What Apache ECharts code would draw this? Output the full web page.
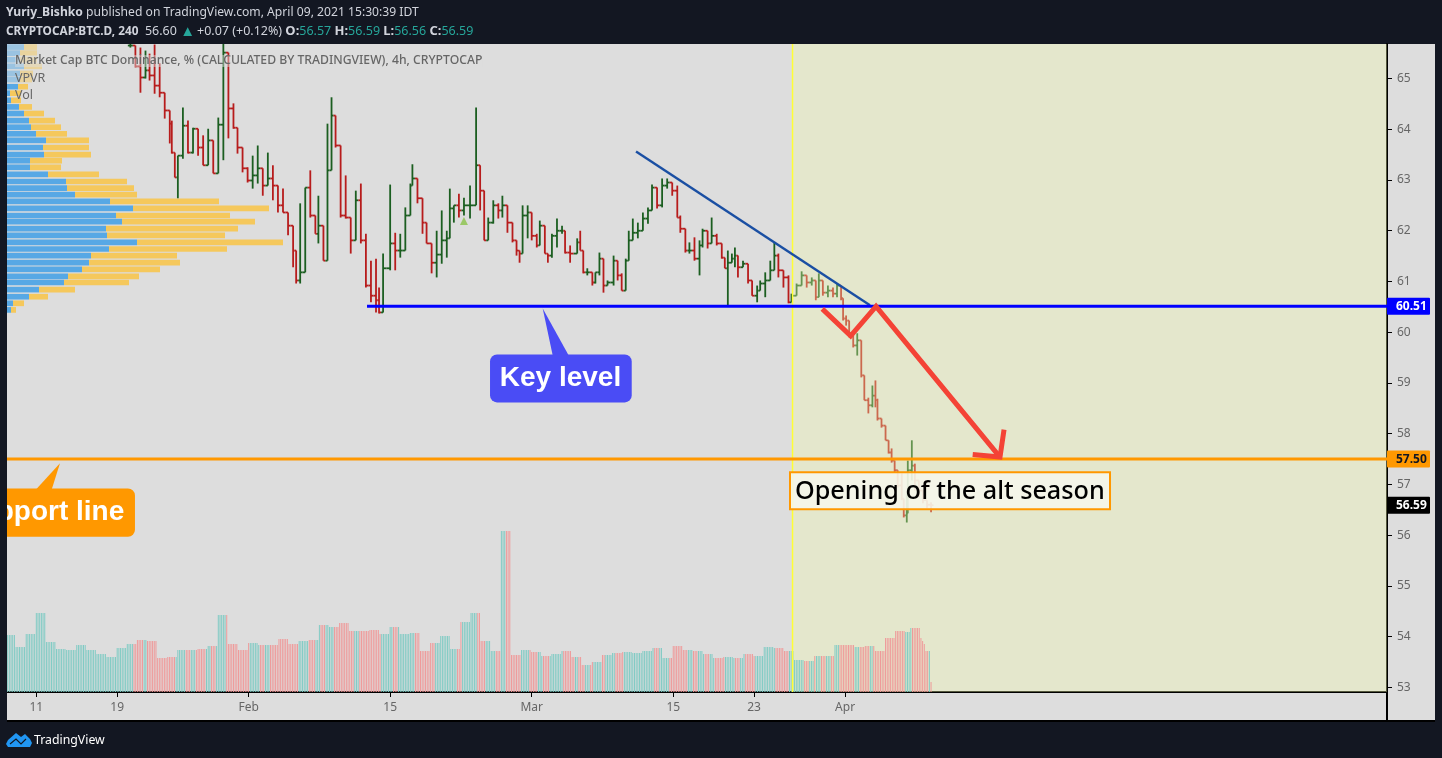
<!DOCTYPE html>
<html>
<head>
<meta charset="utf-8">
<title>BTC.D</title>
<script src="https://cdn.jsdelivr.net/npm/echarts@6/dist/echarts.min.js"></script>
<style>
  html, body { margin: 0; padding: 0; background: #131722; overflow: hidden; }
  #frame { position: absolute; left: 7px; top: 44px; width: 1428px; height: 677px; background: #dddddd; }
  #main { position: absolute; left: 0; top: 0; width: 1442px; height: 758px; }
</style>
</head>
<body>
<div id="frame"></div>
<div id="main"></div>
<script>
// day of 2021 (1 = Jan 1) for each price bar
var priceDay = [20.3,20.8,21.3,21.8,22.2,22.7,23.2,23.7,24.2,24.4,24.7,25.0,25.5,26.0,26.5,27.0,27.5,28.0,28.5,29.0,29.5,30.0,30.5,30.9,31.4,31.9,32.4,32.9,33.4,33.9,34.4,34.9,35.4,35.9,36.4,36.7,37.1,37.6,38.1,38.6,38.9,39.4,39.8,40.2,40.6,41.1,41.6,42.1,42.6,43.1,43.6,44.1,44.6,44.9,45.3,
  46.0,46.5,47.0,47.5,48.0,48.2,48.7,49.2,49.6,50.1,50.6,51.1,51.6,51.9,52.3,52.8,53.3,53.9,54.5,54.9,55.3,55.7,56.2,56.7,57.1,57.6,58.1,58.5,58.8,59.1,59.6,60.0,60.5,60.8,61.3,61.6,62.0,62.5,63.0,63.3,63.8,64.5,64.8,65.1,65.5,66.0,66.3,66.7,67.1,67.5,68.1,68.5,68.9,69.3,69.6,70.0,70.5,71.0,71.5,71.9,72.4,72.9,73.4,73.9,74.4,74.7,75.2,75.6,76.1,76.6,76.9,77.4,77.8,78.3,78.8,79.1,79.4,79.8,80.1,80.4,80.9,81.4,81.8,82.3,82.6,83.1,83.6,84.0,84.4,84.9,85.4,85.7,
  86.2,86.7,87.2,87.7,88.1,88.4,88.8,89.3,89.8,90.2,90.6,90.8,91.1,91.4,91.8,92.2,92.6,92.9,93.3,93.7,94.0,94.2,94.6,95.0,95.3,95.6,95.9,96.2,96.6,96.8,97.1,97.2,97.6,97.9,98.3,98.7,99.1,99.5];
var priceHigh = [65.69,65.61,65.61,65.55,65.49,65.67,65.3,64.57,64.21,64.17,63.54,63.48,64.43,64.17,64.03,63.82,63.88,64.01,63.54,64.23,65.75,64.76,64.51,64.01,63.48,63.25,63.48,63.68,63.05,63.54,63.29,62.79,62.83,62.26,61.87,61.55,62.54,62.85,63.19,62.26,62.69,61.87,64.11,64.63,64.11,63.33,63.09,61.81,62.79,62.93,61.94,61.41,61.45,60.88,61.55,
  62.91,61.96,61.94,62.46,62.93,63.31,62.89,62.56,61.9,61.67,62.0,62.4,62.0,62.83,62.5,62.73,62.65,62.89,64.43,63.05,62.46,62.26,62.6,62.54,62.69,62.2,62.14,61.81,61.57,62.5,62.5,62.14,61.94,62.2,61.87,61.55,61.94,62.24,62.1,61.87,61.71,61.85,62.0,61.61,61.26,61.08,61.18,61.57,61.28,61.02,61.51,61.41,61.16,61.45,62.0,62.24,62.16,62.36,62.46,62.91,62.73,63.03,63.03,62.95,62.89,62.3,61.94,61.77,61.87,61.81,62.04,61.87,62.26,61.94,61.75,61.47,61.61,61.55,61.67,61.31,61.41,61.35,61.02,60.92,61.02,61.18,61.41,61.77,61.55,61.18,61.12,60.76,
  60.96,61.2,61.02,61.08,60.96,61.16,60.88,60.92,60.88,60.96,60.86,60.63,60.33,60.13,59.9,59.98,59.58,59.11,58.71,58.95,59.05,58.69,58.3,58.12,57.87,57.71,57.47,57.24,57.22,56.69,56.82,57.47,57.87,57.41,57.08,56.88,56.69,56.65];
var priceLow = [65.61,65.22,64.72,65.0,64.96,64.7,64.63,64.21,63.72,63.52,63.05,62.64,63.42,63.52,63.52,63.48,63.29,63.52,63.13,63.39,63.39,63.82,64.01,63.52,63.15,62.95,62.83,62.93,62.69,62.93,62.6,62.36,62.36,61.91,61.28,60.96,60.96,62.26,62.26,61.94,61.75,61.41,61.41,64.03,63.64,62.26,62.24,61.55,62.26,61.75,60.88,60.59,60.39,60.37,60.78,
  61.22,61.22,61.47,61.94,62.3,62.89,62.54,61.94,61.75,61.16,61.08,61.35,61.47,62.1,62.16,62.26,62.3,62.24,62.6,62.4,61.81,62.0,62.14,62.24,62.26,61.96,61.77,61.51,61.37,61.55,61.85,61.81,61.67,61.9,61.55,61.37,61.47,61.67,61.94,61.55,61.37,61.61,61.61,61.16,61.12,60.92,60.96,61.12,60.78,60.92,60.92,61.02,60.82,61.06,61.41,61.9,61.85,62.0,62.14,62.44,62.44,62.46,62.83,62.69,62.26,61.96,61.57,61.55,61.41,61.12,61.67,61.65,61.87,61.71,61.45,61.26,60.53,61.41,61.28,61.08,61.28,60.96,60.72,60.59,60.82,60.69,61.08,61.28,61.08,60.88,60.57,60.63,
  60.76,60.92,60.88,60.92,60.63,60.69,60.72,60.69,60.69,60.69,60.63,60.23,60.13,59.9,59.7,59.54,59.11,58.66,58.4,58.52,58.52,58.26,58.12,57.87,57.61,57.43,57.24,56.94,56.69,56.35,56.25,56.43,57.08,56.88,56.75,56.63,56.53,56.45];
var priceClose = [65.65,65.24,65.02,65.16,65.06,64.86,64.72,64.37,64.11,63.54,63.05,63.48,64.07,63.54,64.01,63.64,63.29,63.78,63.13,64.09,65.51,64.41,64.03,63.64,63.23,62.99,63.09,63.23,62.89,63.03,62.89,62.5,62.36,62.1,61.61,61.02,61.18,62.85,62.3,61.94,62.1,61.41,63.19,64.27,63.68,62.3,62.26,61.81,62.6,61.81,60.92,60.72,60.63,60.39,61.26,
  61.75,61.61,61.61,62.3,62.89,63.03,62.64,62.16,61.75,61.37,61.53,61.81,61.85,62.44,62.5,62.4,62.5,62.5,63.29,62.79,61.81,62.16,62.5,62.4,62.5,62.16,61.81,61.61,61.55,62.3,62.36,61.9,61.71,62.1,61.55,61.51,61.9,62.0,62.0,61.57,61.55,61.77,61.61,61.18,61.18,60.98,61.18,61.45,60.92,60.98,61.41,61.12,60.82,61.41,61.81,61.96,62.0,62.24,62.4,62.85,62.5,62.89,62.95,62.79,62.26,62.04,61.61,61.61,61.45,61.71,62.0,61.75,61.9,61.75,61.47,61.26,61.37,61.45,61.51,61.28,61.35,61.02,60.72,60.82,60.96,61.02,61.22,61.51,61.22,61.08,60.59,60.72,
  60.92,61.12,60.98,61.02,60.69,61.02,60.78,60.82,60.76,60.92,60.67,60.27,60.23,59.94,59.74,59.84,59.15,58.66,58.56,58.75,58.66,58.3,58.16,57.87,57.63,57.47,57.28,56.98,56.72,56.39,56.43,57.28,57.37,57.08,56.88,56.69,56.6,56.59];

// daily volume from Jan 8 on, then the last days bar by bar
var volumeDays = [57,45,58,79,50,43,42,47,42,38,35,44,48,52,51,34,35,42,42,43,46,77,48,42,49,47,47,53,48,51,52,67,65,69,61,61,62,58,65,58,59,41,49,56,43,70,79,51,41,161,
  37,42,40,36,38,41,35,27,30,37,39,40,39,41,44,34,46,42,41,38,34,35,34,38,36,45,44,41,32,31,36,36,47,47,45,46,41,54,61];
var volumeTail = [60,60,60,64,64,64,64,64,64,54,51,48,41,41,41,10];

// visible range volume, rows from the top of the pane down
var vpvrPrice = [65.62,65.5,65.37,65.24,65.1,64.98,64.84,64.71,64.57,64.44,64.31,64.17,64.04,63.91,63.78,63.64,63.5,63.38,63.25,63.11,62.97,62.84,62.71,62.58,62.44,62.3,62.18,62.04,61.91,61.77,61.64,61.51,61.37,61.24,61.1,60.98,60.84,60.7,60.57,60.44];
var vpvrBuy = [17,13,13,17,13,13,11,3,4,12,17,22,24,29,39,36,37,23,23,41,59,60,68,103,126,109,115,99,100,130,102,84,82,75,61,57,32,22,6,4];
var vpvrSell = [13,17,17,18,13,12,10,11,10,13,20,26,30,31,43,46,47,32,31,51,61,67,62,109,136,114,133,132,118,146,118,86,91,78,71,65,36,19,11,5];

var priceTicks = [53,54,55,56,57,58,59,60,61,62,63,64,65];
var dayTicks = [11,19,32,46,60,74,82,91];
var dayLabels = ['11','19','Feb','15','Mar','15','23','Apr'];

// drawings on the chart, as [day, price]
var trendLine = [[70.32,63.56],[93.46,60.53]];
var keyLevel = [[43.71,60.51],[144.6,60.51]];
var supportLevel = [[8.1,57.5],[144.6,57.5]];
var redPath = [[88.74,60.46],[91.55,59.93],[94.06,60.51],[106.32,57.54]];
var redHead = [[103.62,57.59],[106.32,57.54],[106.72,58.08]];
var shadeStart = 85.8;
var marker = [[53.3,62.19]];
var keyTip = [61.09,60.47];
var supportTip = [13.34,57.42];
var boxCorner = [85.55,57.24];
var tags = [[60.51,'60.51','#0000ff','#ffffff'],[57.5,'57.50','#ff9800','#131722'],[56.59,'56.59','#000000','#ffffff']];

var UP = '#1b5e20', DOWN = '#b71c1c';
var FONT = '"Noto Sans", sans-serif';
var xMin = 8.1, xMax = 144.6, yMin = 52.91, yMax = 65.68;

var priceData = priceDay.map(function (d, i) {
  var open = i > 0 ? priceClose[i - 1] : priceClose[i];
  return [d, open, priceHigh[i], priceLow[i], priceClose[i]];
});

// volume bars take their colour from the nearest price bar
function barColor(day, slot) {
  var up = Math.floor(slot / 3) % 2 === 0;
  for (var i = 1; i < priceData.length; i++) {
    if (priceData[i][0] > day + 0.25) {
      up = priceData[i - 1][4] >= priceData[i - 1][1];
      break;
    }
  }
  return up ? '#80cbc4' : '#ef9a9a';
}
var volumeData = [];
function addVolume(day, value, slot) {
  volumeData.push({ value: [day, value], itemStyle: { color: barColor(day, slot) } });
}
volumeDays.forEach(function (v, i) {
  for (var s = 0; s < 6; s++) addVolume(8 + i + s / 6, v, i * 6 + s);
});
volumeTail.forEach(function (v, i) {
  addVolume(8 + volumeDays.length + i / 6, v, volumeDays.length * 6 + i);
});

// high-low stem with open tick to the left and close tick to the right, reaching the neighbours
function renderBar(params, api) {
  var i = params.dataIndex;
  var x = api.value(0);
  var open = api.value(1), close = api.value(4);
  var top = Math.max(api.value(2), open, close);
  var bottom = Math.min(api.value(3), open, close);
  var o = api.coord([x, open]);
  var c = api.coord([x, close]);
  var h = api.coord([x, top]);
  var l = api.coord([x, bottom]);
  var left = i > 0 ? api.coord([priceDay[i - 1], open])[0] : o[0] - 5;
  var right = i < priceDay.length - 1 ? api.coord([priceDay[i + 1], close])[0] : c[0] + 5;
  var st = { stroke: close >= open ? UP : DOWN, lineWidth: 1.8, fill: null };
  return {
    type: 'group',
    children: [
      { type: 'line', shape: { x1: h[0], y1: h[1], x2: l[0], y2: l[1] }, style: st },
      { type: 'line', shape: { x1: (left + o[0]) / 2, y1: o[1], x2: o[0], y2: o[1] }, style: st },
      { type: 'line', shape: { x1: c[0], y1: c[1], x2: (right + c[0]) / 2, y2: c[1] }, style: st }
    ]
  };
}

function renderVpvr(params, api) {
  var p = api.value(0);
  var a = api.coord([0, p]);
  var b = api.coord([api.value(1), p]);
  var c = api.coord([api.value(1) + api.value(2), p]);
  var h = api.size([0, 0.112])[1];
  return {
    type: 'group',
    children: [
      { type: 'rect', shape: { x: a[0], y: a[1] - h / 2, width: b[0] - a[0], height: h }, style: { fill: '#57a8e5' } },
      { type: 'rect', shape: { x: b[0], y: b[1] - h / 2, width: c[0] - b[0], height: h }, style: { fill: '#f5c85c' } }
    ]
  };
}

function lineSeries(data, color, width, z) {
  return {
    type: 'line', data: data, showSymbol: false, silent: true, z: z, animation: false,
    lineStyle: { color: color, width: width, join: 'miter', cap: 'butt' }
  };
}

function callout(tip, color, text, rect, base, textX) {
  return {
    type: 'custom', z: 9, silent: true, animation: false, data: [tip],
    renderItem: function (params, api) {
      var t = api.coord([api.value(0), api.value(1)]);
      return {
        type: 'group',
        children: [
          { type: 'polygon', shape: { points: [[t[0], t[1]], [t[0] + base[0], t[1] + rect[1] + 1], [t[0] + base[1], t[1] + rect[1] + 1]] }, style: { fill: color } },
          { type: 'rect', shape: { x: t[0] + rect[0], y: t[1] + rect[1], width: rect[2], height: rect[3], r: 7 }, style: { fill: color } },
          { type: 'text', style: { x: t[0] + textX, y: t[1] + rect[1] + rect[3] / 2, text: text, fill: '#ffffff', font: 'bold 28px "Liberation Sans", Arial, sans-serif', align: 'right', verticalAlign: 'middle' } }
        ]
      };
    }
  };
}

var myChart = echarts.init(document.getElementById('main'), null, { width: 1442, height: 758 });

var option = {
  backgroundColor: 'transparent',
  animation: false,
  grid: { left: 7, right: 55, top: 44, height: 648, containLabel: false },
  xAxis: [
    {
      type: 'value', min: xMin, max: xMax, position: 'bottom', splitLine: { show: false },
      axisLine: { onZero: false, lineStyle: { color: '#000000', width: 2 } },
      axisTick: { length: 5, lineStyle: { color: '#000000' }, customValues: dayTicks },
      axisLabel: {
        color: '#666666', fontFamily: FONT, fontSize: 12, margin: 10, customValues: dayTicks,
        formatter: function (v) { return dayLabels[dayTicks.indexOf(v)]; }
      }
    },
    { type: 'value', min: 0, max: 1380, show: false, position: 'top' }
  ],
  yAxis: [
    {
      type: 'value', min: yMin, max: yMax, position: 'right', splitLine: { show: false },
      axisLine: { onZero: false, lineStyle: { color: '#000000', width: 2 } },
      axisTick: { length: 5, lineStyle: { color: '#000000' }, customValues: priceTicks },
      axisLabel: { color: '#666666', fontFamily: FONT, fontSize: 12, margin: 10, customValues: priceTicks }
    },
    { type: 'value', min: 0, max: 648, show: false, position: 'left' }
  ],
  series: [
    { type: 'bar', name: 'Vol', yAxisIndex: 1, barWidth: 1, data: volumeData, z: 6, silent: true, animation: false },
    {
      type: 'custom', name: 'VPVR', xAxisIndex: 1, z: 3, silent: true, animation: false,
      data: vpvrPrice.map(function (p, i) { return [p, vpvrBuy[i], vpvrSell[i]]; }),
      encode: { x: [1, 2], y: 0 }, renderItem: renderVpvr
    },
    {
      type: 'custom', name: 'BTC.D', z: 4, clip: true, silent: true, animation: false,
      data: priceData, encode: { x: 0, y: [1, 2, 3, 4] }, renderItem: renderBar
    },
    {
      type: 'scatter', data: marker, symbol: 'triangle', symbolSize: 8, z: 4, silent: true, animation: false,
      itemStyle: { color: '#8bc34a' }
    },
    {
      type: 'line', data: [], z: 5, silent: true, animation: false,
      markArea: {
        silent: true, z: 5,
        itemStyle: { color: 'rgba(241,250,172,0.35)' },
        data: [[{ xAxis: shadeStart }, { xAxis: xMax }]]
      }
    },
    lineSeries([[shadeStart, yMin], [shadeStart, yMax]], '#ffff33', 1.5, 6),
    lineSeries(trendLine, '#1a4fa3', 2.4, 7),
    lineSeries(keyLevel, '#0000ff', 3, 7),
    lineSeries(supportLevel, '#ff9800', 3, 7),
    lineSeries(redPath, '#f44336', 5, 8),
    lineSeries(redHead, '#f44336', 5, 8),
    callout(keyTip, '#4a4cf5', 'Key level', [-52.7, 46, 141.7, 48], [10, 26], 78.5),
    callout(supportTip, '#ff9800', 'Support line', [-60, 25.3, 135, 48.3], [-24, -8.3], 64.3),
    {
      type: 'custom', z: 9, silent: true, animation: false, data: [boxCorner],
      renderItem: function (params, api) {
        var c = api.coord([api.value(0), api.value(1)]);
        return {
          type: 'group',
          children: [
            { type: 'rect', shape: { x: c[0], y: c[1], width: 320, height: 37 }, style: { fill: 'rgba(246,247,236,0.88)', stroke: '#ff9800', lineWidth: 2 } },
            { type: 'text', style: { x: c[0] + 5, y: c[1] + 19.5, text: 'Opening of the alt season', fill: '#000000', font: '500 25.2px "Noto Sans", sans-serif', verticalAlign: 'middle' } }
          ]
        };
      }
    },
    {
      type: 'custom', z: 10, silent: true, animation: false, data: tags.map(function (t) { return [t[0]]; }),
      encode: { y: 0 },
      renderItem: function (params, api) {
        var t = tags[params.dataIndex];
        var c = api.coord([xMax, t[0]]);
        return {
          type: 'group',
          children: [
            { type: 'rect', shape: { x: c[0], y: c[1] - 8.5, width: 43, height: 17, r: 1 }, style: { fill: t[2] } },
            { type: 'text', style: { x: c[0] + 9, y: c[1], text: t[1], fill: t[3], font: 'bold 12px "Noto Sans", sans-serif', verticalAlign: 'middle' } }
          ]
        };
      }
    }
  ],
  graphic: [
    { type: 'rect', z: 90, silent: true, shape: { x: 7, y: 44, width: 38, height: 40 }, style: { fill: 'rgba(221,221,221,0.5)' } },
    { type: 'rect', z: 100, silent: true, shape: { x: 0, y: 44, width: 7, height: 680 }, style: { fill: '#131722' } },
    { type: 'line', z: 100, silent: true, shape: { x1: 7, y1: 721, x2: 1435, y2: 721 }, style: { stroke: '#000000', lineWidth: 2 } },
    { type: 'line', z: 100, silent: true, shape: { x1: 1387, y1: 692, x2: 1387, y2: 721 }, style: { stroke: '#000000', lineWidth: 2 } },
    {
      type: 'text', z: 100, silent: true, x: 6, y: 7,
      style: {
        text: '{b|Yuriy_Bishko} published on TradingView.com, April 09, 2021 15:30:39 IDT',
        fill: '#d1d4dc', font: '12.15px "Noto Sans", sans-serif',
        rich: { b: { fontWeight: 'bold', fontSize: 12.15, fill: '#d1d4dc', fontFamily: 'Noto Sans' } }
      }
    },
    {
      type: 'text', z: 100, silent: true, x: 6, y: 24,
      style: {
        text: '{b|CRYPTOCAP:BTC.D, 240}  56.60 {a|▲}\u2009+0.07 (+0.12%) {k|O:}{t|56.57} {k|H:}{t|56.59} {k|L:}{t|56.56} {k|C:}{t|56.59}',
        fill: '#d1d4dc', font: '12.5px "Noto Sans", sans-serif',
        rich: {
          b: { fontWeight: 'bold', fontSize: 11.8, fill: '#d1d4dc', fontFamily: 'Noto Sans' },
          k: { fontWeight: 'bold', fontSize: 13, fill: '#d1d4dc', fontFamily: 'Noto Sans' },
          a: { fontSize: 15, fill: '#26a69a', fontFamily: 'Noto Sans' },
          t: { fontSize: 12.5, fill: '#26a69a', fontFamily: 'Noto Sans' }
        }
      }
    },
    {
      type: 'text', z: 100, silent: true, x: 15, y: 55,
      style: {
        text: 'Market Cap BTC Dominance, % (CALCULATED BY TRADINGVIEW), 4h, CRYPTOCAP',
        fill: '#666666', font: '500 12.2px "Noto Sans", sans-serif',
        backgroundColor: 'rgba(221,221,221,0.45)'
      }
    },
    { type: 'text', z: 100, silent: true, x: 15, y: 72, style: { text: 'VPVR', fill: '#666666', font: '12.5px "Noto Sans", sans-serif' } },
    { type: 'text', z: 100, silent: true, x: 15, y: 89, style: { text: 'Vol', fill: '#666666', font: '12.5px "Noto Sans", sans-serif' } },
    {
      type: 'polygon', z: 100, silent: true,
      shape: { points: [[8, 747], [6, 744], [8, 740], [16, 733], [21, 737], [25, 734], [30, 739], [32, 743], [30, 747]] },
      style: { fill: '#2196f3' }
    },
    {
      type: 'polyline', z: 100, silent: true,
      shape: { points: [[10, 744], [16, 739], [21, 744], [26, 739]] },
      style: { stroke: '#131722', lineWidth: 1.2, fill: null }
    },
    { type: 'text', z: 100, silent: true, x: 34, y: 734, style: { text: 'TradingView', fill: '#ffffff', font: '12.3px "Noto Sans", sans-serif' } }
  ]
};

myChart.setOption(option);
</script>
</body>
</html>
